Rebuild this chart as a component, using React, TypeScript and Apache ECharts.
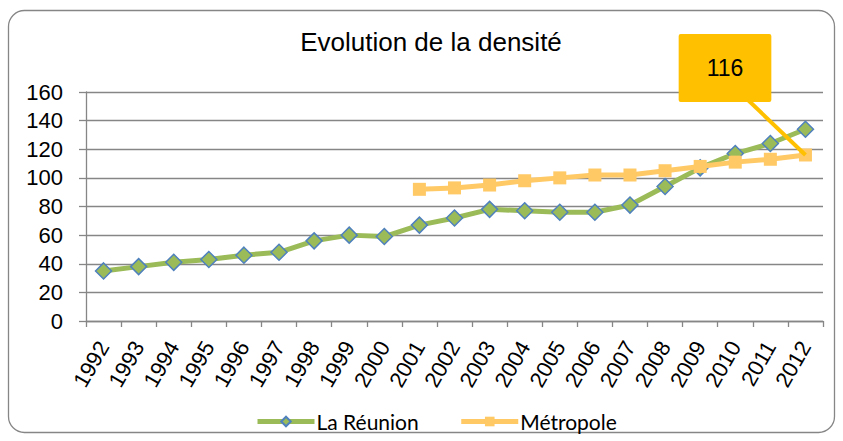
import React, { useEffect, useRef } from "react";
import * as echarts from "echarts";

const years = ["1992","1993","1994","1995","1996","1997","1998","1999","2000","2001","2002","2003","2004","2005","2006","2007","2008","2009","2010","2011","2012"];
const reunion = [35, 38, 41, 43, 46, 48, 56, 60, 59, 67, 72, 78, 77, 76, 76, 81, 94, 107, 117, 124, 134];
const metropole: (number | null)[] = [null, null, null, null, null, null, null, null, null, 92, 93, 95, 98, 100, 102, 102, 105, 108, 111, 113, 116];
const calloutText = "116";

export default function App() {
  const ref = useRef<HTMLDivElement>(null);
  useEffect(() => {
    const chart = echarts.init(ref.current!, null, { renderer: "svg" });
    const lastIdx = metropole.length - 1;
    const labelFont = { fontFamily: "Liberation Sans, Arial", fontSize: 22, color: "#000" };
    chart.setOption({
      animation: false,
      backgroundColor: "#ffffff",
      title: {
        text: "Evolution de la densité",
        left: 426,
        textAlign: "center",
        top: 24,
        textStyle: { fontFamily: "Liberation Sans, Arial", fontSize: 26, fontWeight: "normal", color: "#000" },
      },
      graphic: [
        {
          type: "rect",
          shape: { x: 8.5, y: 10.5, width: 826, height: 422, r: 16 },
          style: { fill: "none", stroke: "#868686", lineWidth: 1.3 },
          z: -1,
        },
      ],
      grid: { left: 86, right: 20, top: 92, bottom: 120, outerBoundsMode: "none", containLabel: false },
      legend: {
        bottom: 4,
        left: 250,
        itemWidth: 57,
        itemHeight: 12,
        itemGap: 40,
        textStyle: { fontFamily: "Lato, Open Sans, Liberation Sans", fontSize: 21, color: "#000", padding: [0, 0, 0, -3] },
        data: [
          { name: "La Réunion", lineStyle: { width: 5, color: "#9BBB59" } },
          { name: "Métropole", lineStyle: { width: 5, color: "#FFC966" } },
        ],
      },
      xAxis: {
        type: "category",
        data: years,
        boundaryGap: true,
        axisLine: { lineStyle: { color: "#868686", width: 1.3 } },
        axisTick: { show: true, length: 6, interval: 0, lineStyle: { color: "#868686", width: 1.3 } },
        axisLabel: { rotate: 60, interval: 0, margin: 22, ...labelFont },
      },
      yAxis: [
        {
          type: "value",
          position: "left",
          min: 0,
          max: 160,
          interval: 20,
          axisLine: { show: true, lineStyle: { color: "#868686", width: 1.3 } },
          axisTick: { show: true, length: 7, lineStyle: { color: "#868686", width: 1.3 } },
          splitLine: { lineStyle: { color: "#868686", width: 1.3 } },
          axisLabel: { show: false },
        },
        {
          type: "value",
          position: "left",
          offset: 15,
          min: 0,
          max: 160,
          interval: 20,
          axisLine: { show: false },
          axisTick: { show: false },
          splitLine: { show: false },
          axisLabel: { show: true, margin: 8, ...labelFont },
        },
      ],
      series: [
        {
          name: "La Réunion",
          type: "line",
          yAxisIndex: 0,
          data: reunion,
          symbol: "diamond",
          symbolSize: 16,
          lineStyle: { color: "#9BBB59", width: 5 },
          itemStyle: { color: "#9BBB59", borderColor: "#4F81BD", borderWidth: 1.5 },
          z: 2,
        },
        {
          name: "Métropole",
          type: "line",
          yAxisIndex: 0,
          data: metropole.map((v, i) =>
            i === lastIdx
              ? {
                  value: v,
                  label: {
                    show: true,
                    formatter: calloutText,
                    backgroundColor: "#FFC000",
                    padding: [23, 28, 22, 28],
                    borderRadius: 2,
                    fontFamily: "Liberation Sans, Arial",
                    fontSize: 23,
                    color: "#000",
                  },
                }
              : v
          ),
          symbol: "rect",
          symbolSize: 13,
          connectNulls: false,
          lineStyle: { color: "#FFC966", width: 5 },
          itemStyle: { color: "#FFC966" },
          labelLayout: { x: 725, y: 68, align: "center", verticalAlign: "middle" },
          markLine: {
            silent: true,
            symbol: "none",
            label: { show: false },
            lineStyle: { color: "#FFC000", width: 4, type: "solid" },
            data: [[{ coord: [years[lastIdx], metropole[lastIdx]] }, { x: 748, y: 100 }]],
          },
          z: 3,
        },
      ],
    });
    return () => chart.dispose();
  }, []);
  return <div ref={ref} style={{ width: 843, height: 441, position: "absolute", left: 0, top: 0 }} />;
}
